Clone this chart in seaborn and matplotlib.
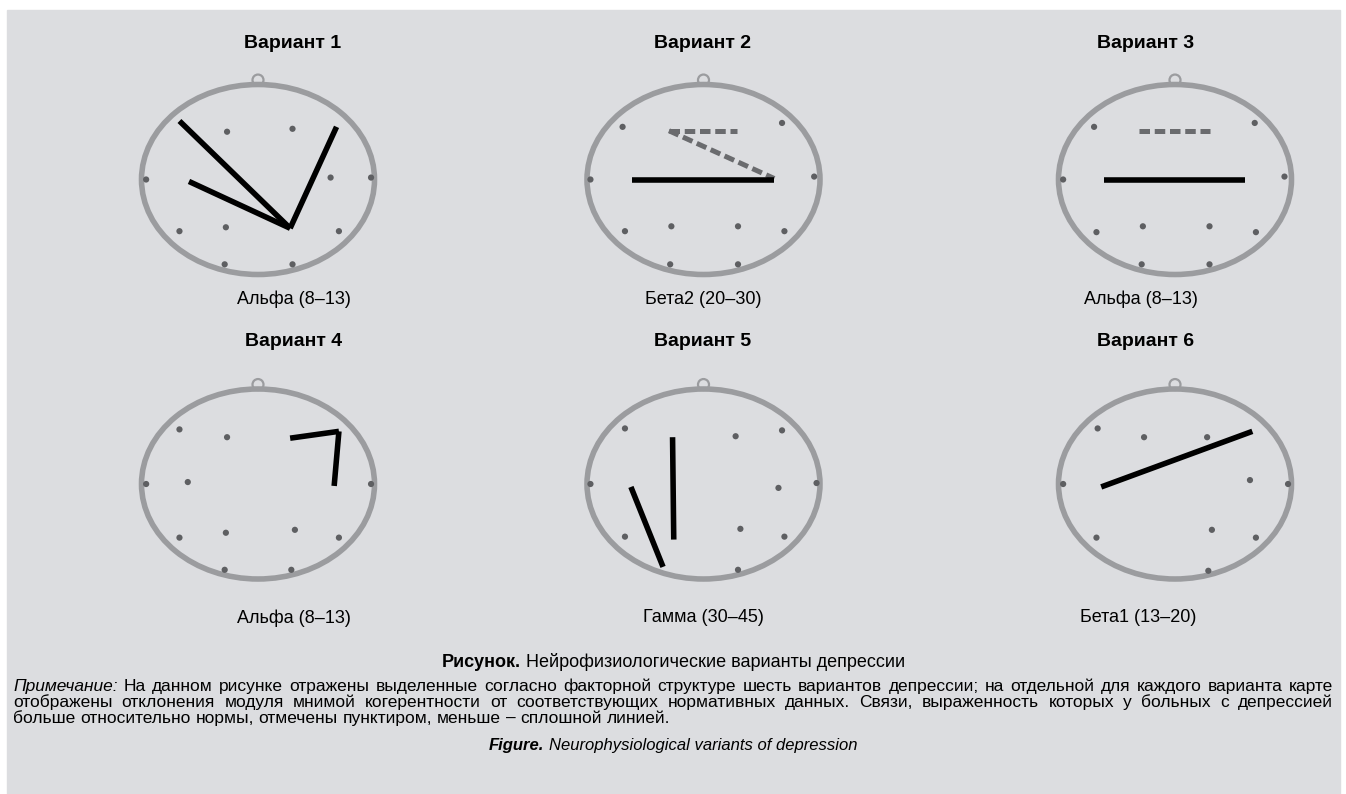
import seaborn as sns
import matplotlib.pyplot as plt
from matplotlib.patches import Ellipse, Rectangle

sns.set_theme(style="white")
plt.rcParams['font.family'] = ['Liberation Sans Narrow', 'Liberation Sans', 'DejaVu Sans']
plt.rcParams['text.color'] = 'black'

W, H = 1346, 794
BG = '#dcdde0'
HEAD = '#9b9c9f'
DOT = '#5e5f62'
DASH = '#6a6b6e'

variants = ['Вариант 1', 'Вариант 2', 'Вариант 3', 'Вариант 4', 'Вариант 5', 'Вариант 6']
bands = ['Альфа (8–13)', 'Бета2 (20–30)', 'Альфа (8–13)',
         'Альфа (8–13)', 'Гамма (30–45)', 'Бета1 (13–20)']

# electrode dots, head coordinates (x to the right, y up, head radius = 1)
dots_x = [
    [-0.26, 0.29, -0.94, 0.61, 0.95, -0.66, -0.27, 0.68, -0.28, 0.29],
    [-0.68, 0.66, -0.95, 0.93, -0.66, -0.27, 0.29, 0.68, -0.28, 0.29],
    [-0.68, 0.67, -0.94, 0.92, -0.66, -0.27, 0.29, 0.68, -0.28, 0.29],
    [-0.66, -0.26, -0.94, -0.59, 0.95, -0.66, -0.27, 0.31, 0.68, -0.28, 0.28],
    [-0.66, 0.27, 0.66, -0.95, 0.63, 0.95, -0.66, 0.31, 0.68, 0.29],
    [-0.65, -0.26, 0.27, -0.94, 0.63, 0.95, -0.66, 0.31, 0.68, 0.28],
]
dots_y = [
    [0.49, 0.52, 0.00, 0.02, 0.02, -0.53, -0.49, -0.53, -0.87, -0.87],
    [0.54, 0.58, 0.00, 0.03, -0.53, -0.48, -0.48, -0.53, -0.87, -0.87],
    [0.54, 0.58, 0.00, 0.03, -0.54, -0.48, -0.48, -0.54, -0.87, -0.87],
    [0.56, 0.48, 0.00, 0.02, 0.00, -0.55, -0.50, -0.47, -0.55, -0.88, -0.88],
    [0.57, 0.49, 0.55, 0.00, -0.04, 0.01, -0.54, -0.46, -0.54, -0.88],
    [0.57, 0.48, 0.48, 0.00, 0.04, 0.00, -0.55, -0.47, -0.55, -0.89],
]

# connections (x0, y0, x1, y1): solid = weaker than norm, dashed = stronger
solid_links = [
    [(-0.66, 0.60, 0.27, -0.50), (-0.58, -0.02, 0.27, -0.50), (0.66, 0.54, 0.27, -0.50)],
    [(-0.60, 0.00, 0.59, 0.00)],
    [(-0.60, 0.00, 0.59, 0.00)],
    [(0.27, 0.47, 0.68, 0.54), (0.68, 0.54, 0.64, -0.02)],
    [(-0.26, 0.48, -0.25, -0.57), (-0.61, -0.03, -0.34, -0.85)],
    [(-0.62, -0.03, 0.65, 0.54)],
]
dashed_links = [
    [],
    [(-0.29, 0.50, 0.28, 0.50), (-0.29, 0.50, 0.595, 0.01)],
    [(-0.30, 0.50, 0.29, 0.50)],
    [],
    [],
    [],
]

col_x = [258, 703.5, 1175]
row_y = [179.5, 484]
title_x = [293, 703, 1146, 294, 703, 1146]
title_y = [43, 342]
band_x = [294, 703, 1141, 294, 703, 1138]
band_y = [299, 618]

fig = plt.figure(figsize=(W / 100, H / 100), dpi=100)
fig.patch.set_facecolor('white')
fig.add_artist(Rectangle((7 / W, 0), (1340 - 7) / W, (H - 10) / H,
                         transform=fig.transFigure, color=BG, zorder=0))

UX, UY = 119, 97.5   # pixels per head unit
for i in range(6):
    cx = col_x[i % 3]
    cy = row_y[i // 3]
    ax = fig.add_axes([(cx - 1.2 * UX) / W, (H - cy - 1.25 * UY) / H,
                       2.4 * UX / W, 2.5 * UY / H])
    ax.set_xlim(-1.2, 1.2)
    ax.set_ylim(-1.25, 1.25)
    ax.axis('off')
    ax.patch.set_alpha(0)

    ax.add_patch(Ellipse((0, 1.02), 11 / UX, 11 / UY, fill=False,
                         lw=1.6, ec=HEAD, zorder=1))
    ax.add_patch(Ellipse((0, 0), 2 * 116.5 / UX, 2 * 95 / UY, fill=False,
                         lw=4.0, ec=HEAD, zorder=2))
    sns.scatterplot(x=dots_x[i], y=dots_y[i], ax=ax, color=DOT, s=20,
                    edgecolor='none', legend=False, zorder=3)
    for x0, y0, x1, y1 in dashed_links[i]:
        ax.plot([x0, x1], [y0, y1], color=DASH, lw=3.6,
                linestyle=(0, (2.1, 0.95)), solid_capstyle='butt',
                dash_capstyle='butt', zorder=4)
    for x0, y0, x1, y1 in solid_links[i]:
        ax.plot([x0, x1], [y0, y1], color='black', lw=4.0,
                solid_capstyle='butt', zorder=5)

    fig.text(title_x[i] / W, 1 - title_y[i // 3] / H, variants[i],
             ha='center', va='center', fontsize=14, fontweight='bold')
    fig.text(band_x[i] / W, 1 - band_y[i // 3] / H, bands[i],
             ha='center', va='center', fontsize=13)

renderer = fig.canvas.get_renderer()


def space_width(size):
    a = fig.text(0, 0, 'a a', fontsize=size)
    b = fig.text(0, 0, 'aa', fontsize=size)
    w = a.get_window_extent(renderer).width - b.get_window_extent(renderer).width
    a.remove()
    b.remove()
    return w


def runs(parts, x, y, size, center=False):
    # parts: list of (text, kwargs); drawn one after another on one baseline
    texts = [fig.text(0, 1 - y / H, s, va='baseline', fontsize=size, **kw)
             for s, kw in parts]
    widths = [t.get_window_extent(renderer).width for t in texts]
    space = space_width(size)
    total = sum(widths) + space * (len(parts) - 1)
    pos = x - total / 2 if center else x
    for t, w in zip(texts, widths):
        t.set_x(pos / W)
        pos += w + space


def justified(words, y, size, left=13, right=1333, styles=None):
    styles = styles or {}
    texts = [fig.text(0, 1 - y / H, w, va='baseline', fontsize=size, **styles.get(k, {}))
             for k, w in enumerate(words)]
    widths = [t.get_window_extent(renderer).width for t in texts]
    gap = (right - left - sum(widths)) / (len(words) - 1)
    pos = left
    for t, w in zip(texts, widths):
        t.set_x(pos / W)
        pos += w + gap


runs([('Рисунок.', {'fontweight': 'bold'}),
      ('Нейрофизиологические варианты депрессии', {})], 673, 667, 13, center=True)

note1 = ('Примечание: На данном рисунке отражены выделенные согласно факторной '
         'структуре шесть вариантов депрессии; на отдельной для каждого варианта карте')
note2 = ('отображены отклонения модуля мнимой когерентности от соответствующих '
         'нормативных данных. Связи, выраженность которых у больных с депрессией')
note3 = 'больше относительно нормы, отмечены пунктиром, меньше – сплошной линией.'

justified(note1.split(' '), 691, 12.5, styles={0: {'fontstyle': 'italic'}})
justified(note2.split(' '), 707, 12.5)
runs([(w, {}) for w in note3.split(' ')], 13, 723, 12.5)

runs([('Figure.', {'fontweight': 'bold', 'fontstyle': 'italic'}),
      ('Neurophysiological variants of depression', {'fontstyle': 'italic'})],
     673, 750, 12, center=True)

fig.savefig('out.png', dpi=100, facecolor='white')
